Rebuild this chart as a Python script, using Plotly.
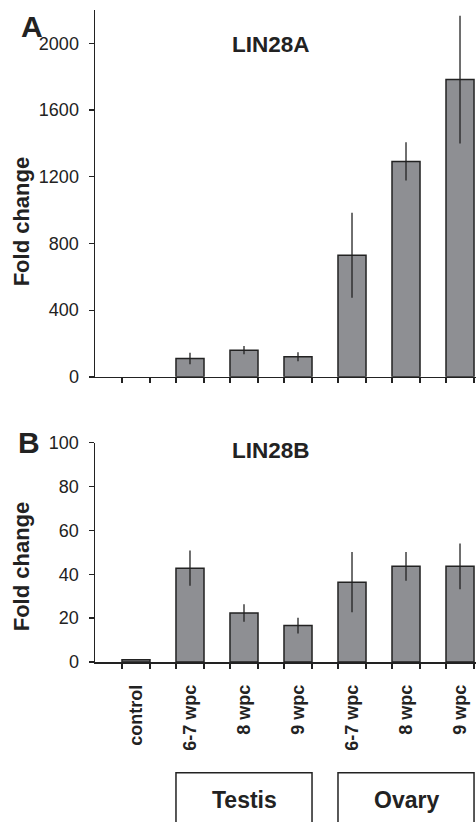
import plotly.graph_objects as go

categories = ["control", "6-7 wpc", "8 wpc", "9 wpc", "6-7 wpc", "8 wpc", "9 wpc"]
lin28a_values = [1, 110, 160, 120, 729, 1292, 1783]
lin28a_errors = [0, 35, 25, 27, 255, 115, 383]
lin28b_values = [1, 42.8, 22.3, 16.6, 36.4, 43.6, 43.6]
lin28b_errors = [0, 8, 4, 3.6, 13.7, 6.6, 10.4]
groups = ["Testis", "Ovary"]
group_spans = [(1, 3), (4, 6)]
a_ticks = [0, 400, 800, 1200, 1600, 2000]
b_ticks = [0, 20, 40, 60, 80, 100]

W, H = 476, 822
ML, MR, MT, MB = 95, 0, 8, 160
plot_h = H - MT - MB
zero_b = H - MB

def frac(py):
    return (zero_b - py) / plot_h

dark = "#222222"
barfill = "#8e8f93"
font = "Liberation Sans, Arial, sans-serif"
bw = 0.519
xs = list(range(len(categories)))
edges = []
for i in xs:
    edges += [i - bw / 2, i + bw / 2]
xrange_ = [-0.759, 6.296]

a_line_w = [0 if v < 5 else 1.5 for v in lin28a_values]

fig = go.Figure()
fig.add_trace(go.Bar(x=xs, y=lin28a_values, width=bw, xaxis="x", yaxis="y",
                     marker=dict(color=barfill, line=dict(color=dark, width=a_line_w)),
                     error_y=dict(type="data", array=lin28a_errors, visible=True,
                                  thickness=1.3, width=0, color=dark),
                     showlegend=False))
fig.add_trace(go.Bar(x=xs, y=lin28b_values, width=bw, xaxis="x2", yaxis="y2",
                     marker=dict(color=barfill, line=dict(color=dark, width=1.5)),
                     error_y=dict(type="data", array=lin28b_errors, visible=True,
                                  thickness=1.3, width=0, color=dark),
                     showlegend=False))

xcommon = dict(range=xrange_, showline=True, linecolor=dark, linewidth=1.5,
               showgrid=False, zeroline=False, ticks="", ticklen=0,
               minor=dict(tickmode="array", tickvals=edges, ticks="outside",
                          ticklen=5, tickwidth=1.3, tickcolor=dark, showgrid=False))
ycommon = dict(showline=True, linecolor=dark, linewidth=1.5, showgrid=False,
               zeroline=False, ticks="outside", ticklen=5, tickwidth=1.3,
               tickcolor=dark, tickfont=dict(family=font, size=18, color=dark),
               ticklabelstandoff=6)

fig.update_layout(
    width=W, height=H, margin=dict(l=ML, r=MR, t=MT, b=MB),
    paper_bgcolor="white", plot_bgcolor="white", bargap=0,
    xaxis=dict(anchor="y", showticklabels=False, **xcommon),
    xaxis2=dict(anchor="y2", tickmode="array", tickvals=xs, ticktext=categories,
                tickangle=-90, ticklabelstandoff=14,
                tickfont=dict(family=font, size=18, color=dark, weight="bold"),
                **xcommon),
    yaxis=dict(domain=[frac(376), 1.0], range=[0, 2200], tickvals=a_ticks,
               anchor="x", **ycommon),
    yaxis2=dict(domain=[0, frac(442)], range=[0, 100], tickvals=b_ticks,
                anchor="x2", **ycommon),
)

ann = []
def add_text(text, x, y, size, xref="paper", yref="paper", angle=0, weight="bold"):
    ann.append(dict(text=text, x=x, y=y, xref=xref, yref=yref, showarrow=False,
                    textangle=angle, xanchor="center", yanchor="middle",
                    font=dict(family=font, size=size, color=dark, weight=weight)))

def px_x(px):
    return (px - ML) / (W - ML - MR)

add_text("A", px_x(32), frac(25), 30)
add_text("B", px_x(29), frac(442), 30)
add_text("LIN28A", 2.5, frac(43), 22.5, xref="x")
add_text("LIN28B", 2.5, frac(450), 22.5, xref="x2")
add_text("Fold change", px_x(21), frac(220), 22, angle=-90)
add_text("Fold change", px_x(21), frac(566), 22, angle=-90)

shapes = []
for g, (a, b) in zip(groups, group_spans):
    shapes.append(dict(type="rect", xref="x2", yref="paper",
                       x0=a - bw / 2, x1=b + bw / 2, y0=frac(830), y1=frac(773),
                       line=dict(color=dark, width=1.5), fillcolor="rgba(0,0,0,0)"))
    add_text(g, (a + b) / 2, frac(800), 23, xref="x2")

fig.update_layout(annotations=ann, shapes=shapes)
fig.write_html("out.html", config={"displayModeBar": False, "staticPlot": True},
               post_script="document.body.style.margin='0';document.body.style.overflow='hidden';")
